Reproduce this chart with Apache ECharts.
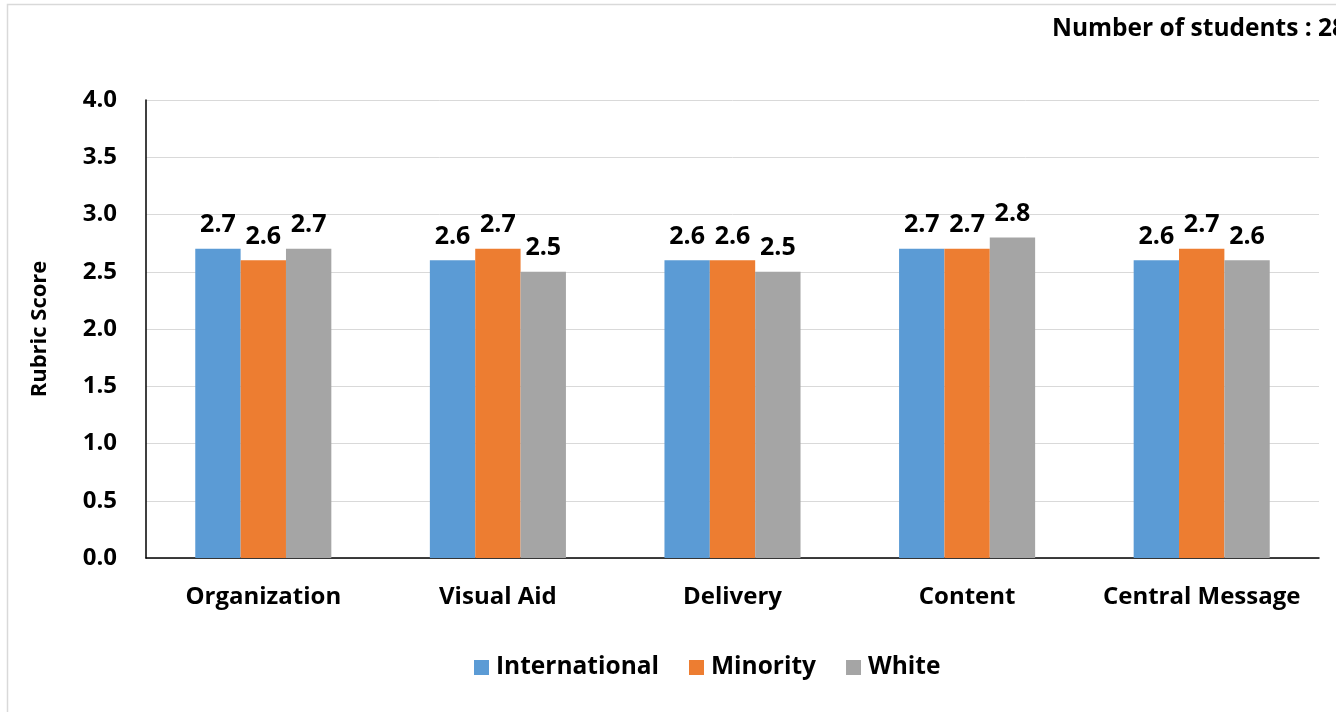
<!DOCTYPE html>
<html><head><meta charset="utf-8">
<script src="https://cdn.jsdelivr.net/npm/echarts@6/dist/echarts.min.js"></script>
<style>html,body{margin:0;padding:0;background:#fff}#c{width:1336px;height:712px}</style>
</head><body><div id="c"></div>
<script>
var categories = ['Organization', 'Visual Aid', 'Delivery', 'Content', 'Central Message'];
var seriesNames = ['International', 'Minority', 'White'];
var international = [2.7, 2.6, 2.6, 2.7, 2.6];
var minority = [2.6, 2.7, 2.6, 2.7, 2.7];
var white = [2.7, 2.5, 2.5, 2.8, 2.6];
var colors = ['#5b9bd5', '#ed7d31', '#a5a5a5'];
var titleText = 'Number of students : 28';
var yTitle = 'Rubric Score';

var FONT = '"Open Sans", "Liberation Sans", sans-serif';
var chart = echarts.init(document.getElementById('c'));
function mk(name, data, color) {
  return {
    name: name, type: 'bar', data: data, barGap: '0%', barCategoryGap: '42%',
    itemStyle: { color: color },
    label: { show: true, position: 'top', distance: 11, color: '#000', fontWeight: 'bold', fontSize: 25, fontFamily: FONT,
      formatter: function (p) { return p.value.toFixed(1); } }
  };
}
chart.setOption({
  animation: false,
  graphic: [{ type: 'rect', shape: { x: 7.5, y: 4.5, width: 1340, height: 720 }, style: { fill: 'none', stroke: '#d9d9d9', lineWidth: 1.5 }, silent: true }],
  title: { text: titleText, left: 1047, top: 12, textStyle: { fontSize: 24.5, fontWeight: 'bold', color: '#000', fontFamily: FONT } },
  legend: { top: 650, left: 469, itemWidth: 15, itemHeight: 15, itemGap: 30, icon: 'rect',
    textStyle: { fontSize: 24.5, fontWeight: 'bold', color: '#000', fontFamily: FONT, padding: [0, 0, 0, 2] } },
  grid: { left: 146, right: 17, top: 100, bottom: 154, containLabel: false },
  xAxis: { type: 'category', data: categories,
    axisLine: { lineStyle: { color: '#000', width: 1.5 } }, axisTick: { show: false },
    axisLabel: { interval: 0, fontSize: 24, fontWeight: 'bold', color: '#000', margin: 27, fontFamily: FONT } },
  yAxis: { type: 'value', min: 0, max: 4, interval: 0.5,
    name: yTitle, nameLocation: 'middle', nameGap: 95, nameTextStyle: { fontSize: 22, fontWeight: 'bold', color: '#000', fontFamily: FONT },
    axisLine: { show: true, lineStyle: { color: '#000', width: 1.5 } },
    splitLine: { lineStyle: { color: '#d9d9d9', width: 1 } },
    axisLabel: { fontSize: 24, fontWeight: 'bold', color: '#000', margin: 29, fontFamily: FONT, formatter: function (v) { return v.toFixed(1); } } },
  series: [mk(seriesNames[0], international, colors[0]), mk(seriesNames[1], minority, colors[1]), mk(seriesNames[2], white, colors[2])]
});
</script></body></html>
